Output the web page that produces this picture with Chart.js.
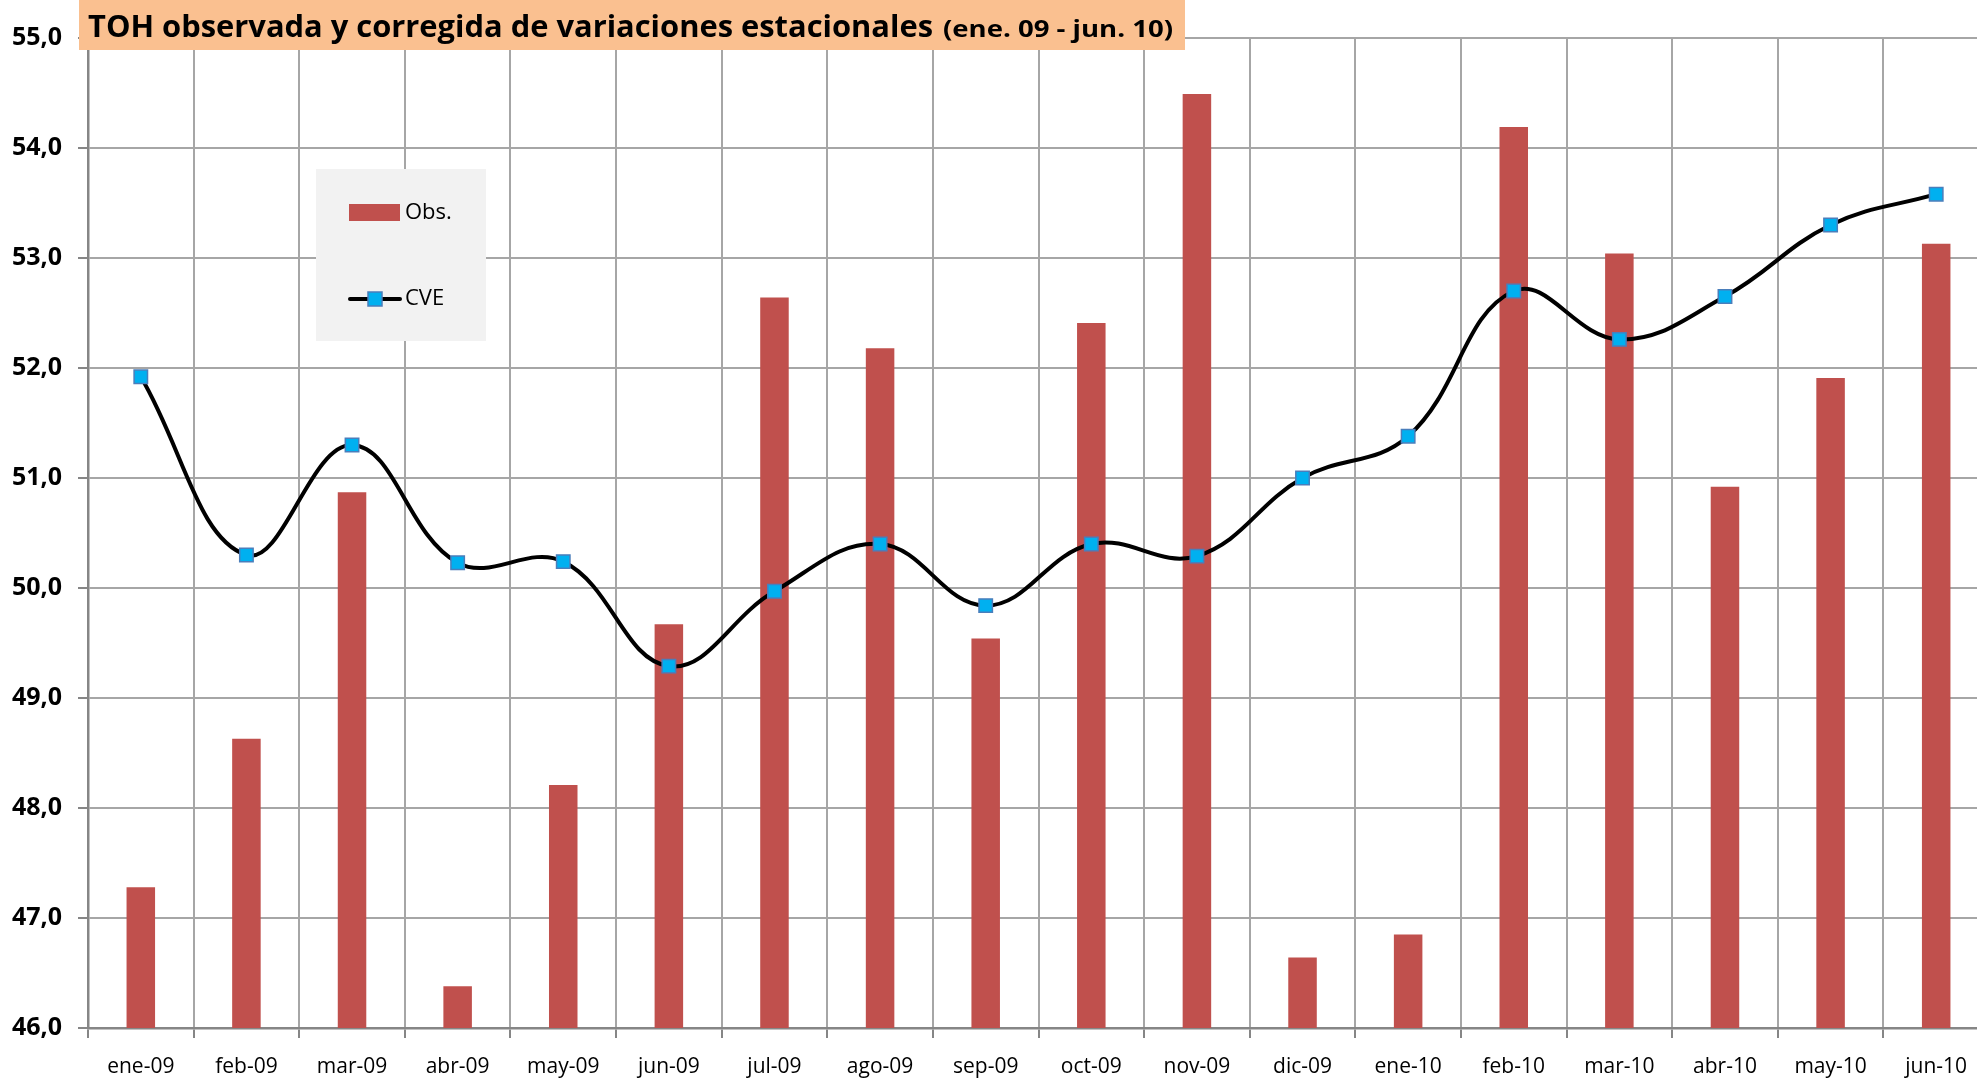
<!DOCTYPE html>
<html>
<head>
<meta charset="utf-8">
<script src="https://cdn.jsdelivr.net/npm/chart.js"></script>
<style>
  html, body { margin: 0; padding: 0; overflow: hidden; background: #fff; }
  canvas { display: block; }
</style>
</head>
<body>
<canvas id="toh" width="2000" height="1080"></canvas>
<script>
// months shown on the x axis
const months = ['ene-09', 'feb-09', 'mar-09', 'abr-09', 'may-09', 'jun-09', 'jul-09', 'ago-09', 'sep-09',
                'oct-09', 'nov-09', 'dic-09', 'ene-10', 'feb-10', 'mar-10', 'abr-10', 'may-10', 'jun-10'];

// observed rate (bars)
const obs = [47.28, 48.63, 50.87, 46.38, 48.21, 49.67, 52.64, 52.18, 49.54,
             52.41, 54.49, 46.64, 46.85, 54.19, 53.04, 50.92, 51.91, 53.13];

// seasonally adjusted (line)
const cve = [51.92, 50.30, 51.30, 50.23, 50.24, 49.29, 49.97, 50.40, 49.84,
             50.40, 50.29, 51.00, 51.38, 52.70, 52.26, 52.65, 53.30, 53.58];

const yMin = 46, yMax = 55, yStep = 1;

const titleMain = 'TOH observada y corregida de variaciones estacionales';
const titleSub = '(ene. 09 - jun. 10)';

const BAR_RED = '#c0504d';
const MARK_BLUE = '#00b0f0';
const MARK_EDGE = '#4a7ebb';
const GRID = '#a6a6a6';

// draws text squeezed to a given width (Calibri is not around)
function fitText(ctx, txt, x, y, w) {
  const m = ctx.measureText(txt).width;
  ctx.save();
  ctx.translate(x, y);
  ctx.scale(w / m, 1);
  ctx.fillText(txt, 0, 0);
  ctx.restore();
}

const decorations = {
  id: 'decorations',
  afterDraw(chart) {
    const ctx = chart.ctx;
    ctx.save();

    // title box
    ctx.fillStyle = '#fac090';
    ctx.fillRect(79, 0, 1106, 50);
    ctx.fillStyle = '#000';
    ctx.textBaseline = 'alphabetic';
    ctx.textAlign = 'left';
    ctx.font = 'bold 30px "Open Sans", sans-serif';
    fitText(ctx, titleMain, 88, 37, 845);
    ctx.font = 'bold 23px "Open Sans", sans-serif';
    fitText(ctx, titleSub, 943, 37, 230);

    // legend box
    ctx.fillStyle = '#f2f2f2';
    ctx.fillRect(316, 169, 170, 172);

    ctx.fillStyle = BAR_RED;
    ctx.fillRect(349, 204, 51, 17);

    ctx.strokeStyle = '#000';
    ctx.lineWidth = 4;
    ctx.lineCap = 'round';
    ctx.beginPath();
    ctx.moveTo(350, 299);
    ctx.lineTo(400, 299);
    ctx.stroke();
    ctx.fillStyle = MARK_BLUE;
    ctx.strokeStyle = MARK_EDGE;
    ctx.lineWidth = 1.5;
    ctx.fillRect(368, 292, 14, 14);
    ctx.strokeRect(368, 292, 14, 14);

    ctx.fillStyle = '#000';
    ctx.font = '22px "Open Sans", sans-serif';
    ctx.textBaseline = 'middle';
    ctx.fillText(chart.data.datasets[1].label, 405, 213);
    ctx.fillText(chart.data.datasets[0].label, 405, 299);

    ctx.restore();
  }
};

new Chart(document.getElementById('toh'), {
  type: 'bar',
  data: {
    labels: months,
    datasets: [
      {
        type: 'line',
        label: 'CVE',
        data: cve,
        order: 0,
        borderColor: '#000',
        borderWidth: 4,
        tension: 0.4,
        pointStyle: 'rect',
        pointRadius: 9.5,
        pointBackgroundColor: MARK_BLUE,
        pointBorderColor: MARK_EDGE,
        pointBorderWidth: 1.5,
        clip: false
      },
      {
        label: 'Obs.',
        data: obs,
        order: 1,
        backgroundColor: BAR_RED,
        barPercentage: 0.27,
        categoryPercentage: 1
      }
    ]
  },
  options: {
    responsive: false,
    animation: false,
    devicePixelRatio: 1,
    layout: { padding: { top: 38, right: 8.5, left: 0, bottom: 0 } },
    plugins: {
      legend: { display: false },
      tooltip: { enabled: false },
      title: { display: false }
    },
    scales: {
      x: {
        offset: true,
        grid: { offset: true, color: GRID, lineWidth: 2, tickLength: 10, tickColor: '#868686' },
        border: { color: '#868686', width: 2.5 },
        ticks: {
          color: '#000',
          padding: 16,
          maxRotation: 0,
          autoSkip: false,
          font: { family: '"Open Sans", sans-serif', size: 21 }
        },
        afterFit(scale) { scale.height = 52; }
      },
      y: {
        min: yMin,
        max: yMax,
        grid: { color: GRID, lineWidth: 2, tickLength: 10, tickColor: '#868686' },
        border: { color: '#868686', width: 2.5 },
        ticks: {
          stepSize: yStep,
          color: '#000',
          padding: 16,
          font: { family: '"Open Sans", sans-serif', size: 25, weight: 'bold' },
          callback: v => v.toFixed(1).replace('.', ',')
        },
        afterFit(scale) { scale.width = 88; }
      }
    }
  },
  plugins: [decorations]
});
</script>
</body>
</html>
